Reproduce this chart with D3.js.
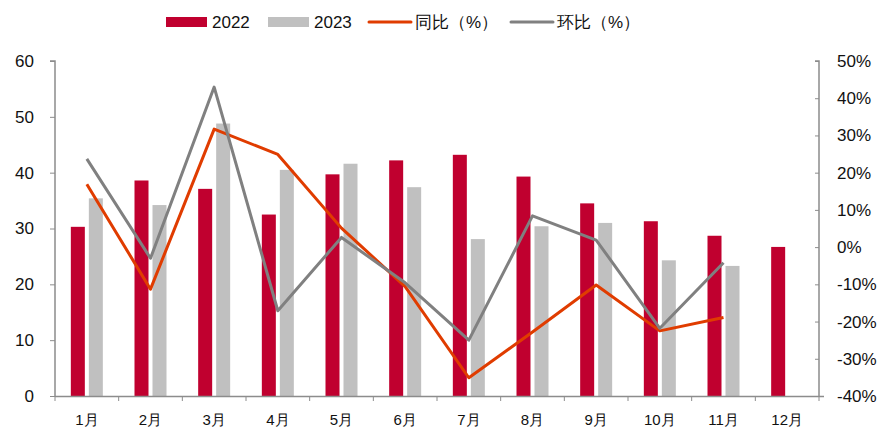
<!DOCTYPE html>
<html><head><meta charset="utf-8">
<script src="https://cdn.jsdelivr.net/npm/d3@7"></script>
<style>body{margin:0;background:#fff}svg{display:block;font-family:"Liberation Sans",Arial,sans-serif}</style>
</head><body><svg id="c" width="888" height="430"></svg>
<script>
const months = ["1月","2月","3月","4月","5月","6月","7月","8月","9月","10月","11月","12月"];
const v2022 = [30.3,38.6,37.1,32.5,39.7,42.2,43.2,39.3,34.5,31.3,28.7,26.7];
const v2023 = [35.4,34.2,48.8,40.5,41.6,37.4,28.1,30.4,31.0,24.3,23.3,null];
const yoy = [16.9,-11.3,31.7,24.9,5.1,-10.6,-35.1,-22.8,-10.2,-22.5,-18.9,null];
const mom = [23.7,-3.0,43.0,-17.1,2.6,-9.6,-25.0,8.4,1.9,-21.8,-4.2,null];
const leftTicks = [0,10,20,30,40,50,60];
const rightTicks = [-40,-30,-20,-10,0,10,20,30,40,50];
const seriesNames = ["2022","2023","同比（%）","环比（%）"];
const colors = {red:"#C0002F", gray:"#C0C0C0", orange:"#E03C00", line:"#808080", axis:"#8C8C8C"};

const svg = d3.select("#c");
const L = 55, R = 819, T = 61, B = 396;
const x = d3.scaleBand().domain(months).range([L, R]);
const yL = d3.scaleLinear().domain([0,60]).range([B, T]);
const yR = d3.scaleLinear().domain([-40,50]).range([B, T]);
const bw = 14, gap = 4;

// bars
const g = svg.append("g");
months.forEach((m,i)=>{
  const c = x(m) + x.bandwidth()/2;
  if (v2022[i]!=null) g.append("rect").attr("x", c - gap/2 - bw).attr("width", bw)
    .attr("y", yL(v2022[i])).attr("height", B - yL(v2022[i])).attr("fill", colors.red);
  if (v2023[i]!=null) g.append("rect").attr("x", c + gap/2).attr("width", bw)
    .attr("y", yL(v2023[i])).attr("height", B - yL(v2023[i])).attr("fill", colors.gray);
});

// axes
const axL = svg.append("g").attr("transform",`translate(${L},0)`)
  .call(d3.axisLeft(yL).tickValues(leftTicks).tickSize(5).tickPadding(16).tickFormat(d3.format("d")));
const axR = svg.append("g").attr("transform",`translate(${R},0)`)
  .call(d3.axisRight(yR).tickValues(rightTicks).tickSize(-4).tickPadding(18).tickFormat(d=>d+"%"));
const tickXs = months.map(m=>x(m)).concat([R]);
const axB = svg.append("g").attr("transform",`translate(0,${B})`)
  .call(d3.axisBottom(x).tickSize(0).tickPadding(18));
axB.selectAll(".tick text").attr("dy","0.71em");
axB.selectAll(".xt").data(tickXs).enter().append("line")
  .attr("x1",d=>d).attr("x2",d=>d).attr("y1",0).attr("y2",5).attr("stroke",colors.axis);
[axL,axR,axB].forEach(a=>{
  a.selectAll(".domain").attr("stroke",colors.axis).attr("stroke-width",1.5);
  a.selectAll(".tick line").attr("stroke",colors.axis);
  a.selectAll(".tick text").attr("fill","#111").attr("font-size",17);
});
axB.select(".domain").attr("d",`M${L},0.5H${R+5}`);
axB.selectAll(".tick text").attr("font-size",15);
axL.select(".domain").attr("d",`M-5,${T}H0V${B}`);
axR.select(".domain").attr("d",`M-4,${T}H0V${B}`);

// lines
const lineGen = d3.line().defined(d=>d.v!=null).x(d=>x(d.m)+x.bandwidth()/2).y(d=>yR(d.v));
svg.append("path").datum(months.map((m,i)=>({m, v:yoy[i]})))
  .attr("d", lineGen).attr("fill","none").attr("stroke",colors.orange).attr("stroke-width",3).attr("stroke-linejoin","round");
svg.append("path").datum(months.map((m,i)=>({m, v:mom[i]})))
  .attr("d", lineGen).attr("fill","none").attr("stroke",colors.line).attr("stroke-width",3).attr("stroke-linejoin","round");

// legend
const leg = svg.append("g").attr("font-size",17).attr("fill","#111");
const items = [
  {x:166, type:"rect", c:colors.red},
  {x:268, type:"rect", c:colors.gray},
  {x:369, type:"line", c:colors.orange},
  {x:511, type:"line", c:colors.line}
];
items.forEach((it,i)=>{
  if (it.type==="rect") leg.append("rect").attr("x",it.x).attr("y",17).attr("width",41).attr("height",10).attr("fill",it.c);
  else leg.append("line").attr("x1",it.x).attr("x2",it.x+42).attr("y1",22).attr("y2",22)
    .attr("stroke",it.c).attr("stroke-width",3).attr("stroke-linecap","round");
  leg.append("text").attr("x",it.x+46).attr("y",28).text(seriesNames[i]).attr("fill","#111");
});
</script></body></html>
